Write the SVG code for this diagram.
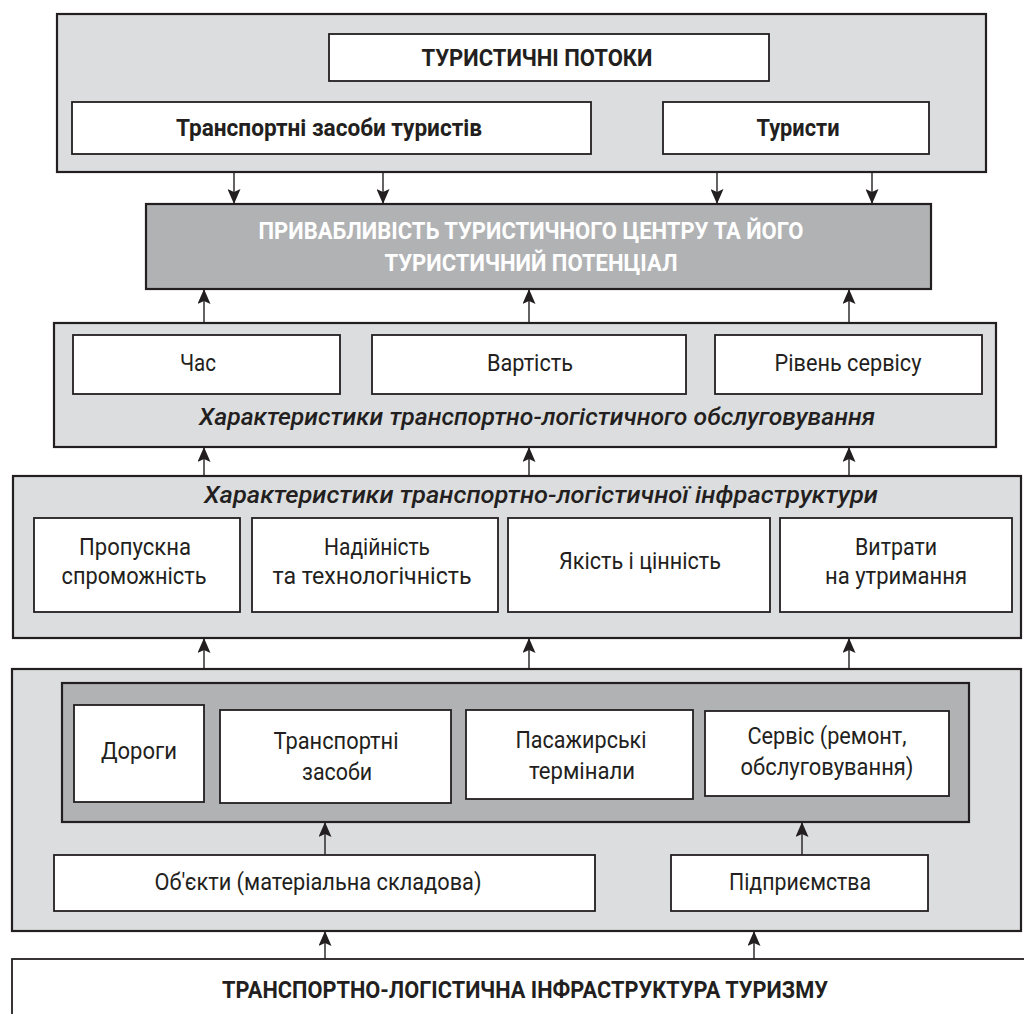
<svg xmlns="http://www.w3.org/2000/svg" width="1024" height="1014" viewBox="0 0 1024 1014">
<style>
.lt{fill:#dcdddf;stroke:#231f20;stroke-width:2.2}
.dk{fill:#b1b2b4;stroke:#231f20;stroke-width:2.2}
.wb{fill:#ffffff;stroke:#231f20;stroke-width:1.8}
.t{font-family:Roboto,"Open Sans","Noto Sans",sans-serif;font-size:24px;fill:#231f20;text-anchor:middle}
.b{font-weight:700;font-size:23px}
.i{font-style:italic;font-weight:500;font-size:23px}
.w{fill:#ffffff}
.c{stroke:#231f20;stroke-width:1.4;fill:none;marker-end:url(#ah)}
</style>
<defs>
<marker id="ah" markerUnits="userSpaceOnUse" markerWidth="15" markerHeight="13" viewBox="0 0 15 13" refX="15" refY="6.5" orient="auto">
<path d="M0,0 L15,6.5 L0,13 L3,6.5 Z" fill="#231f20"/>
</marker>
</defs>
<rect width="1024" height="1014" fill="#ffffff"/>

<g id="tourist-flows">
<rect class="lt" x="57" y="14" width="929" height="158"/>
<g id="flows-title"><rect class="wb" x="329" y="34" width="440" height="47"/>
<text class="t b" x="537" y="66" textLength="231" lengthAdjust="spacingAndGlyphs">ТУРИСТИЧНІ ПОТОКИ</text></g>
<g id="vehicles"><rect class="wb" x="72" y="102" width="519" height="52"/>
<text class="t b" x="329" y="136" textLength="306" lengthAdjust="spacingAndGlyphs">Транспортні засоби туристів</text></g>
<g id="tourists"><rect class="wb" x="663" y="102" width="266" height="52"/>
<text class="t b" x="798" y="136" textLength="83" lengthAdjust="spacingAndGlyphs">Туристи</text></g>
</g>

<g id="attractiveness">
<rect class="dk" x="146" y="204" width="785" height="85"/>
<text class="t b w" x="531" y="239" textLength="545" lengthAdjust="spacingAndGlyphs">ПРИВАБЛИВІСТЬ ТУРИСТИЧНОГО ЦЕНТРУ ТА ЙОГО</text>
<text class="t b w" x="531" y="271" textLength="293" lengthAdjust="spacingAndGlyphs">ТУРИСТИЧНИЙ ПОТЕНЦІАЛ</text>
</g>

<g id="service-characteristics">
<rect class="lt" x="54" y="323" width="942" height="124"/>
<g id="time"><rect class="wb" x="73" y="335" width="267" height="59"/>
<text class="t" x="198" y="371" textLength="36" lengthAdjust="spacingAndGlyphs">Час</text></g>
<g id="cost"><rect class="wb" x="372" y="335" width="314" height="59"/>
<text class="t" x="530" y="371" textLength="86" lengthAdjust="spacingAndGlyphs">Вартість</text></g>
<g id="service-level"><rect class="wb" x="715" y="335" width="267" height="59"/>
<text class="t" x="848" y="371" textLength="147" lengthAdjust="spacingAndGlyphs">Рівень сервісу</text></g>
<text class="t i" x="537" y="425" textLength="676" lengthAdjust="spacingAndGlyphs">Характеристики транспортно-логістичного обслуговування</text>
</g>

<g id="infrastructure-characteristics">
<rect class="lt" x="13" y="476" width="1008" height="162"/>
<text class="t i" x="541" y="503" textLength="674" lengthAdjust="spacingAndGlyphs">Характеристики транспортно-логістичної інфраструктури</text>
<g id="capacity"><rect class="wb" x="34" y="518" width="206" height="94"/>
<text class="t" x="135" y="555" textLength="112" lengthAdjust="spacingAndGlyphs">Пропускна</text>
<text class="t" x="134" y="584" textLength="145" lengthAdjust="spacingAndGlyphs">спроможність</text></g>
<g id="reliability"><rect class="wb" x="252" y="518" width="246" height="94"/>
<text class="t" x="377" y="555" textLength="106" lengthAdjust="spacingAndGlyphs">Надійність</text>
<text class="t" x="372" y="584" textLength="199" lengthAdjust="spacingAndGlyphs">та технологічність</text></g>
<g id="quality"><rect class="wb" x="508" y="518" width="262" height="94"/>
<text class="t" x="640" y="569" textLength="162" lengthAdjust="spacingAndGlyphs">Якість і цінність</text></g>
<g id="maintenance"><rect class="wb" x="780" y="518" width="232" height="94"/>
<text class="t" x="896" y="555" textLength="82" lengthAdjust="spacingAndGlyphs">Витрати</text>
<text class="t" x="896" y="584" textLength="142" lengthAdjust="spacingAndGlyphs">на утримання</text></g>
</g>

<g id="infrastructure-components">
<rect class="lt" x="12" y="669" width="1009" height="262"/>
<rect class="dk" x="62" y="683" width="907" height="139"/>
<g id="roads"><rect class="wb" x="74" y="705" width="130" height="97"/>
<text class="t" x="139" y="759" textLength="76" lengthAdjust="spacingAndGlyphs">Дороги</text></g>
<g id="vehicles2"><rect class="wb" x="220" y="710" width="231" height="93"/>
<text class="t" x="336" y="749" textLength="125" lengthAdjust="spacingAndGlyphs">Транспортні</text>
<text class="t" x="337" y="780" textLength="70" lengthAdjust="spacingAndGlyphs">засоби</text></g>
<g id="terminals"><rect class="wb" x="466" y="710" width="227" height="89"/>
<text class="t" x="581" y="748" textLength="131" lengthAdjust="spacingAndGlyphs">Пасажирські</text>
<text class="t" x="582" y="779" textLength="106" lengthAdjust="spacingAndGlyphs">термінали</text></g>
<g id="service"><rect class="wb" x="705" y="711" width="244" height="85"/>
<text class="t" x="827" y="744" textLength="159" lengthAdjust="spacingAndGlyphs">Сервіс (ремонт,</text>
<text class="t" x="827" y="775" textLength="173" lengthAdjust="spacingAndGlyphs">обслуговування)</text></g>
<g id="objects"><rect class="wb" x="54" y="855" width="541" height="56"/>
<text class="t" x="318" y="890" textLength="327" lengthAdjust="spacingAndGlyphs">Об'єкти (матеріальна складова)</text></g>
<g id="enterprises"><rect class="wb" x="671" y="855" width="257" height="56"/>
<text class="t" x="800" y="890" textLength="142" lengthAdjust="spacingAndGlyphs">Підприємства</text></g>
</g>

<g id="infrastructure">
<rect class="wb" x="12" y="959" width="1030" height="80"/>
<text class="t b" x="525" y="998" textLength="606" lengthAdjust="spacingAndGlyphs">ТРАНСПОРТНО-ЛОГІСТИЧНА ІНФРАСТРУКТУРА ТУРИЗМУ</text>
</g>

<g id="connectors">
<line class="c" x1="234" y1="172" x2="234" y2="204"/>
<line class="c" x1="383" y1="172" x2="383" y2="204"/>
<line class="c" x1="717" y1="172" x2="717" y2="204"/>
<line class="c" x1="872" y1="172" x2="872" y2="204"/>
<line class="c" x1="204" y1="323" x2="204" y2="289"/>
<line class="c" x1="529" y1="323" x2="529" y2="289"/>
<line class="c" x1="849" y1="323" x2="849" y2="289"/>
<line class="c" x1="204" y1="476" x2="204" y2="447"/>
<line class="c" x1="529" y1="476" x2="529" y2="447"/>
<line class="c" x1="849" y1="476" x2="849" y2="447"/>
<line class="c" x1="204" y1="669" x2="204" y2="638"/>
<line class="c" x1="529" y1="669" x2="529" y2="638"/>
<line class="c" x1="849" y1="669" x2="849" y2="638"/>
<line class="c" x1="325" y1="855" x2="325" y2="822"/>
<line class="c" x1="802" y1="855" x2="802" y2="822"/>
<line class="c" x1="325" y1="959" x2="325" y2="931"/>
<line class="c" x1="754" y1="959" x2="754" y2="931"/>
</g>
</svg>
